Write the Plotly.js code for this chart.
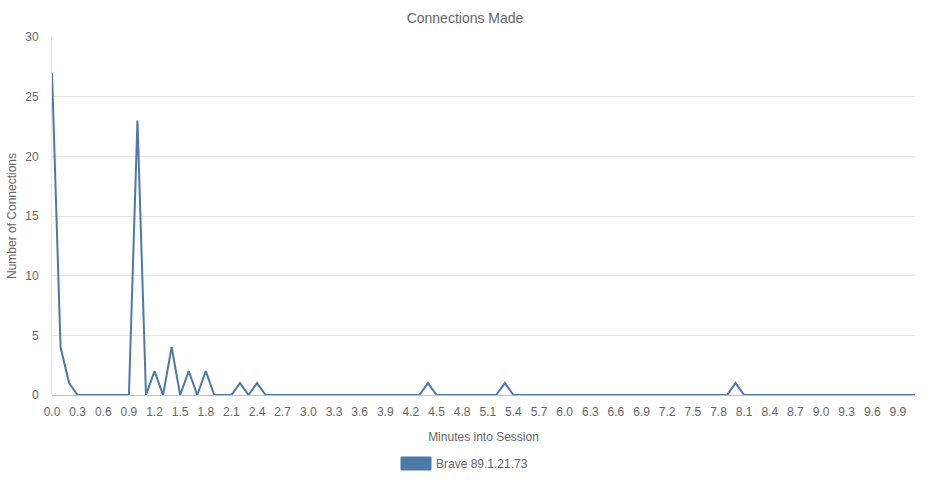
<!DOCTYPE html>
<html>
<head>
<meta charset="utf-8">
<script src="https://cdn.plot.ly/plotly-3.0.1.min.js"></script>
<style>html,body{margin:0;padding:0;background:#fff;}#chart{width:930px;height:480px;}</style>
</head>
<body>
<div id="chart"></div>
<script>
// Categories: minutes into session, 0.0 .. 10.1
const minutes = ["0.0","0.1","0.2","0.3","0.4","0.5","0.6","0.7","0.8","0.9",
"1.0","1.1","1.2","1.3","1.4","1.5","1.6","1.7","1.8","1.9",
"2.0","2.1","2.2","2.3","2.4","2.5","2.6","2.7","2.8","2.9",
"3.0","3.1","3.2","3.3","3.4","3.5","3.6","3.7","3.8","3.9",
"4.0","4.1","4.2","4.3","4.4","4.5","4.6","4.7","4.8","4.9",
"5.0","5.1","5.2","5.3","5.4","5.5","5.6","5.7","5.8","5.9",
"6.0","6.1","6.2","6.3","6.4","6.5","6.6","6.7","6.8","6.9",
"7.0","7.1","7.2","7.3","7.4","7.5","7.6","7.7","7.8","7.9",
"8.0","8.1","8.2","8.3","8.4","8.5","8.6","8.7","8.8","8.9",
"9.0","9.1","9.2","9.3","9.4","9.5","9.6","9.7","9.8","9.9",
"10.0","10.1"];

// Number of connections per category
const connections = [27,4,1,0,0,0,0,0,0,0,
23,0,2,0,4,0,2,0,2,0,
0,0,1,0,1,0,0,0,0,0,
0,0,0,0,0,0,0,0,0,0,
0,0,0,0,1,0,0,0,0,0,
0,0,0,1,0,0,0,0,0,0,
0,0,0,0,0,0,0,0,0,0,
0,0,0,0,0,0,0,0,0,0,
1,0,0,0,0,0,0,0,0,0,
0,0,0,0,0,0,0,0,0,0,
0,0];

const seriesName = "Brave 89.1.21.73";
const tickLabels = minutes.filter((m, i) => i % 3 === 0 && i < 100);

const lineColor = "rgb(78,121,167)";
const textColor = "#666666";
const fontFam = "'Liberation Sans', Arial, Helvetica, sans-serif";

const trace = {
  type: "scatter",
  mode: "lines",
  x: minutes,
  y: connections,
  name: seriesName,
  line: {color: lineColor, width: 2},
  hoverinfo: "x+y",
  showlegend: false
};

const layout = {
  width: 930,
  height: 480,
  margin: {l: 52, r: 15, t: 37, b: 85},
  paper_bgcolor: "#ffffff",
  plot_bgcolor: "#ffffff",
  font: {family: fontFam, size: 12, color: textColor},
  title: {
    text: "Connections Made",
    font: {family: fontFam, size: 14, color: textColor},
    x: 0.5, xanchor: "center", xref: "container",
    y: 1 - 18/480, yanchor: "middle", yref: "container"
  },
  xaxis: {
    type: "category",
    range: [0, minutes.length - 1],
    tickmode: "array",
    tickvals: tickLabels,
    ticktext: tickLabels,
    tickangle: 0,
    showgrid: false,
    zeroline: false,
    showline: false,
    ticks: "",
    ticklabelstandoff: 8,
    tickfont: {family: fontFam, size: 12, color: textColor},
    title: {text: "Minutes into Session", font: {family: fontFam, size: 12, color: textColor}, standoff: 14}
  },
  yaxis: {
    range: [0, 30],
    dtick: 5,
    tick0: 0,
    showgrid: true,
    gridcolor: "#e6e6e6",
    gridwidth: 1,
    zeroline: true,
    zerolinecolor: "#bfbfbf",
    zerolinewidth: 1,
    showline: true,
    linecolor: "#e6e6e6",
    linewidth: 1,
    ticks: "",
    ticklabelstandoff: 10,
    tickfont: {family: fontFam, size: 12, color: textColor},
    title: {text: "Number of Connections", font: {family: fontFam, size: 12, color: textColor}, standoff: 6}
  },
  showlegend: false,
  shapes: [{
    type: "rect",
    xref: "paper", yref: "paper",
    x0: (401 - 52) / 863, x1: (431 - 52) / 863,
    y0: (395 - 470) / 358, y1: (395 - 457) / 358,
    fillcolor: lineColor,
    line: {color: lineColor, width: 1}
  }],
  annotations: [{
    xref: "paper", yref: "paper",
    x: (434 - 52) / 863, y: (395 - 463.5) / 358,
    xanchor: "left", yanchor: "middle",
    text: seriesName,
    showarrow: false,
    font: {family: fontFam, size: 12, color: textColor}
  }]
};

Plotly.newPlot("chart", [trace], layout, {displayModeBar: false, responsive: false});
</script>
</body>
</html>
